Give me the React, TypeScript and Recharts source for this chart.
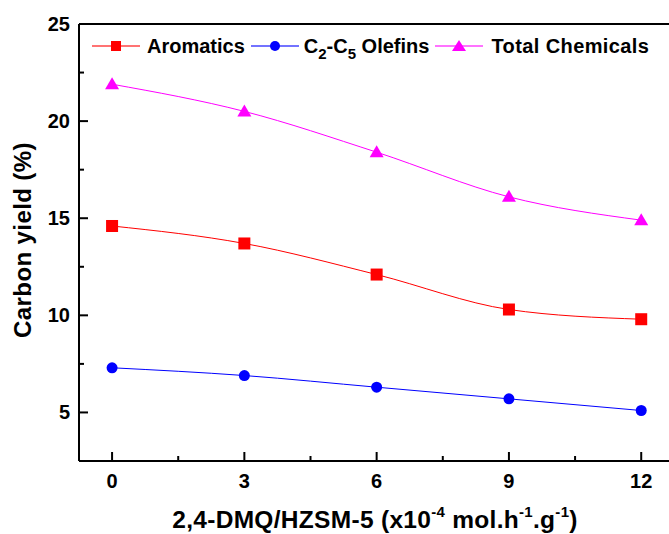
import React from "react";
import {
  LineChart,
  Line,
  XAxis,
  YAxis,
  ReferenceLine,
  Label,
} from "recharts";

const loadings = [0, 3, 6, 9, 12];
const aromatics = [14.6, 13.7, 12.1, 10.3, 9.8];
const olefins = [7.3, 6.9, 6.3, 5.7, 5.1];
const totalChemicals = [21.9, 20.5, 18.4, 16.1, 14.9];

const xTicks = [0, 1.5, 3, 4.5, 6, 7.5, 9, 10.5, 12];
const yTicks = [5, 7.5, 10, 12.5, 15, 17.5, 20, 22.5, 25];

const data = loadings.map((x, i) => ({
  x,
  aromatics: aromatics[i],
  olefins: olefins[i],
  total: totalChemicals[i],
}));

const FONT = "'Liberation Sans', Arial, sans-serif";

const XTick = (props: any) => {
  const { x, y, payload } = props;
  const major = payload.value % 3 === 0;
  return (
    <g>
      <line x1={x} y1={y} x2={x} y2={y - (major ? 9 : 5)} stroke="#000" strokeWidth={2} />
      {major && (
        <text x={x} y={y + 27} textAnchor="middle" fontFamily={FONT} fontWeight="bold" fontSize={20} fill="#000">
          {payload.value}
        </text>
      )}
    </g>
  );
};

const YTick = (props: any) => {
  const { x, y, payload } = props;
  const major = payload.value % 5 === 0;
  return (
    <g>
      <line x1={x} y1={y} x2={x + (major ? 9 : 5)} y2={y} stroke="#000" strokeWidth={2} />
      {major && (
        <text x={x - 9} y={y + 7} textAnchor="end" fontFamily={FONT} fontWeight="bold" fontSize={20} fill="#000">
          {payload.value}
        </text>
      )}
    </g>
  );
};

const Square = (props: any) => {
  const { cx, cy } = props;
  return <rect x={cx - 6} y={cy - 6} width={12} height={12} fill="#ff0000" />;
};

const Circle = (props: any) => {
  const { cx, cy } = props;
  return <circle cx={cx} cy={cy} r={5.5} fill="#0000ff" />;
};

const Triangle = (props: any) => {
  const { cx, cy } = props;
  return <polygon points={`${cx},${cy - 7} ${cx - 7},${cy + 5} ${cx + 7},${cy + 5}`} fill="#ff00ff" />;
};

const LegendMark = ({ color, shape }: { color: string; shape: string }) => (
  <svg width={48} height={20} style={{ display: "block" }}>
    <line x1={0} y1={10} x2={48} y2={10} stroke={color} strokeOpacity={0.55} strokeWidth={2} />
    {shape === "square" && <rect x={19} y={5} width={10} height={10} fill={color} />}
    {shape === "circle" && <circle cx={24} cy={10} r={5} fill={color} />}
    {shape === "triangle" && <polygon points="24,4 17,15 31,15" fill={color} />}
  </svg>
);

const subStyle = { fontSize: 15, verticalAlign: "-6px", lineHeight: 0 };

const ChartLegend = () => (
  <div
    style={{
      position: "absolute",
      left: 92,
      top: 34,
      display: "flex",
      alignItems: "center",
      fontFamily: FONT,
      fontWeight: "bold",
      fontSize: 20,
      lineHeight: "24px",
      color: "#000",
      whiteSpace: "nowrap",
    }}
  >
    <LegendMark color="#ff0000" shape="square" />
    <span style={{ margin: "0 6px 0 7px" }}>Aromatics</span>
    <LegendMark color="#0000ff" shape="circle" />
    <span style={{ margin: "0 6px 0 5px" }}>
      C<sub style={subStyle}>2</sub>-C<sub style={subStyle}>5</sub> Olefins
    </span>
    <LegendMark color="#ff00ff" shape="triangle" />
    <span style={{ marginLeft: 8, letterSpacing: 0.4 }}>Total Chemicals</span>
  </div>
);

const XLabel = () => (
  <text x={375} y={528} textAnchor="middle" fontFamily={FONT} fontWeight="bold" fontSize={24.5} fill="#000" letterSpacing={0.3}>
    <tspan>2,4-DMQ/HZSM-5 (x10</tspan>
    <tspan fontSize={15} dy={-11}>-4</tspan>
    <tspan dy={11}> mol.h</tspan>
    <tspan fontSize={15} dy={-11}>-1</tspan>
    <tspan dy={11}>.g</tspan>
    <tspan fontSize={15} dy={-11}>-1</tspan>
    <tspan dy={11}>)</tspan>
  </text>
);

const YLabel = () => (
  <text
    x={0}
    y={0}
    transform="translate(31, 240) rotate(-90)"
    textAnchor="middle"
    fontFamily={FONT}
    fontWeight="bold"
    fontSize={24}
    fill="#000"
    letterSpacing={0.4}
  >
    Carbon yield (%)
  </text>
);

export default function App() {
  return (
    <div style={{ position: "absolute", left: 0, top: 0, width: 669, height: 534, background: "#fff" }}>
      <LineChart width={669} height={534} data={data} margin={{ top: 24, right: 0, bottom: 0, left: 0 }}>
        <XAxis
          dataKey="x"
          type="number"
          domain={[-0.75, 12.63]}
          ticks={xTicks}
          interval={0}
          allowDataOverflow
          height={73}
          tickSize={0}
          tickMargin={0}
          tick={<XTick />}
          axisLine={{ stroke: "#000", strokeWidth: 2 }}
          tickLine={false}
        >
          <Label content={<XLabel />} />
        </XAxis>
        <YAxis
          type="number"
          domain={[2.5, 25]}
          ticks={yTicks}
          interval={0}
          allowDataOverflow
          width={79}
          tickSize={0}
          tickMargin={0}
          tick={<YTick />}
          axisLine={{ stroke: "#000", strokeWidth: 2 }}
          tickLine={false}
        >
          <Label content={<YLabel />} />
        </YAxis>
        <ReferenceLine y={25} stroke="#000" strokeWidth={2} />
        <Line
          dataKey="total"
          type="monotone"
          stroke="#ff00ff"
          strokeWidth={1}
          dot={<Triangle />}
          isAnimationActive={false}
        />
        <Line
          dataKey="aromatics"
          type="monotone"
          stroke="#ff0000"
          strokeWidth={1}
          dot={<Square />}
          isAnimationActive={false}
        />
        <Line
          dataKey="olefins"
          type="monotone"
          stroke="#0000ff"
          strokeWidth={1}
          dot={<Circle />}
          isAnimationActive={false}
        />
      </LineChart>
      <ChartLegend />
    </div>
  );
}
